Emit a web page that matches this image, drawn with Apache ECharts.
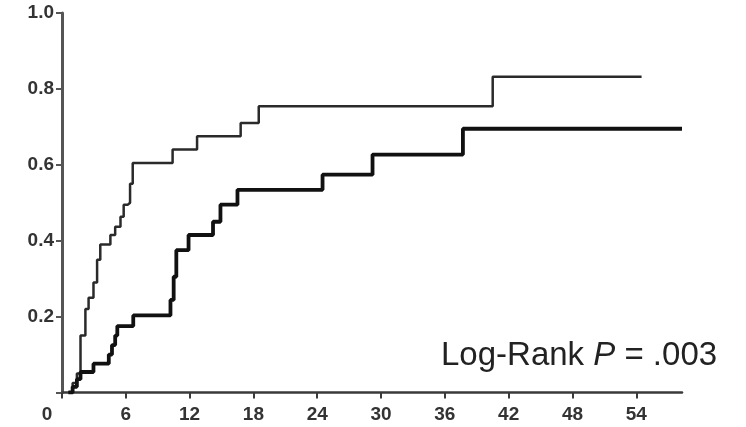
<!DOCTYPE html>
<html>
<head>
<meta charset="utf-8">
<script src="https://cdn.jsdelivr.net/npm/echarts@6/dist/echarts.min.js"></script>
<style>html,body{margin:0;padding:0;background:#fff;}#c{width:746px;height:427px;}</style>
</head>
<body>
<div id="c"></div>
<script>
// Months (x) and cumulative incidence (y) for each group, step points
const thinMonths = [0.6, 1.0, 1.4, 1.74, 2.2, 2.5, 2.96, 3.3, 3.6, 4.55, 5.0, 5.5, 5.8, 6.2, 6.4, 6.65, 10.4, 12.7, 16.8, 18.5, 40.5, 54.5];
const thinValues = [0, 0.025, 0.05, 0.15, 0.22, 0.25, 0.29, 0.35, 0.39, 0.415, 0.437, 0.463, 0.495, 0.50, 0.55, 0.605, 0.64, 0.675, 0.71, 0.754, 0.832, 0.832];
const thickMonths = [0.6, 1.0, 1.4, 1.74, 2.96, 4.4, 4.7, 5.0, 5.2, 6.7, 10.2, 10.5, 10.75, 11.9, 14.2, 14.9, 16.5, 24.5, 29.2, 37.7, 58.3];
const thickValues = [0, 0.015, 0.035, 0.054, 0.076, 0.10, 0.125, 0.15, 0.175, 0.203, 0.244, 0.305, 0.375, 0.415, 0.45, 0.495, 0.534, 0.574, 0.627, 0.695, 0.695];
const xTicks = [0, 6, 12, 18, 24, 30, 36, 42, 48, 54];
const yTicks = [0, 0.2, 0.4, 0.6, 0.8, 1.0];
const annotation = 'Log-Rank ';
const pText = 'P';
const pValue = ' = .003';

const toPairs = (xs, ys) => xs.map((x, i) => [x, ys[i]]);
const FONT = 'Liberation Sans, Arial, sans-serif';

const chart = echarts.init(document.getElementById('c'));
chart.setOption({
  animation: false,
  backgroundColor: '#fff',
  grid: { left: 62, right: 64, top: 13, bottom: 34.5, containLabel: false },
  xAxis: {
    type: 'value', min: 0, max: 58.3,
    splitLine: { show: false },
    axisLine: { lineStyle: { color: '#3a3a3a', width: 2.5 } },
    axisTick: { customValues: xTicks, length: 6, lineStyle: { color: '#3a3a3a', width: 2 } },
    axisLabel: {
      customValues: xTicks,
      margin: 13,
      color: '#333', fontSize: 19, fontWeight: 'bold', fontFamily: FONT,
      formatter: v => v === 0 ? '{z|0}' : String(v),
      rich: { z: { fontSize: 19, fontWeight: 'bold', color: '#333', fontFamily: FONT, padding: [0, 30, 0, 0] } }
    }
  },
  yAxis: {
    type: 'value', min: 0, max: 1, interval: 0.2,
    splitLine: { show: false },
    axisLine: { lineStyle: { color: '#555', width: 3 } },
    axisTick: { customValues: yTicks, length: 6, lineStyle: { color: '#555', width: 2 } },
    axisLabel: {
      customValues: yTicks.slice(1),
      margin: 8,
      color: '#333', fontSize: 19, fontWeight: 'bold', fontFamily: FONT,
      formatter: v => v.toFixed(1)
    }
  },
  series: [
    {
      type: 'line', step: 'end', showSymbol: false, symbol: 'none',
      data: toPairs(thinMonths, thinValues),
      lineStyle: { color: '#2a2a2a', width: 2.5 }, z: 3
    },
    {
      type: 'line', step: 'end', showSymbol: false, symbol: 'none',
      data: toPairs(thickMonths, thickValues),
      lineStyle: { color: '#111', width: 3.8 }, z: 4
    }
  ],
  graphic: [{
    type: 'text', left: 441, top: 339,
    style: {
      text: annotation + '{i|' + pText + '}' + pValue,
      fontSize: 33, fill: '#222', fontFamily: FONT,
      rich: { i: { fontStyle: 'italic', fontSize: 33, fill: '#222', fontFamily: FONT } }
    }
  }]
});
</script>
</body>
</html>
